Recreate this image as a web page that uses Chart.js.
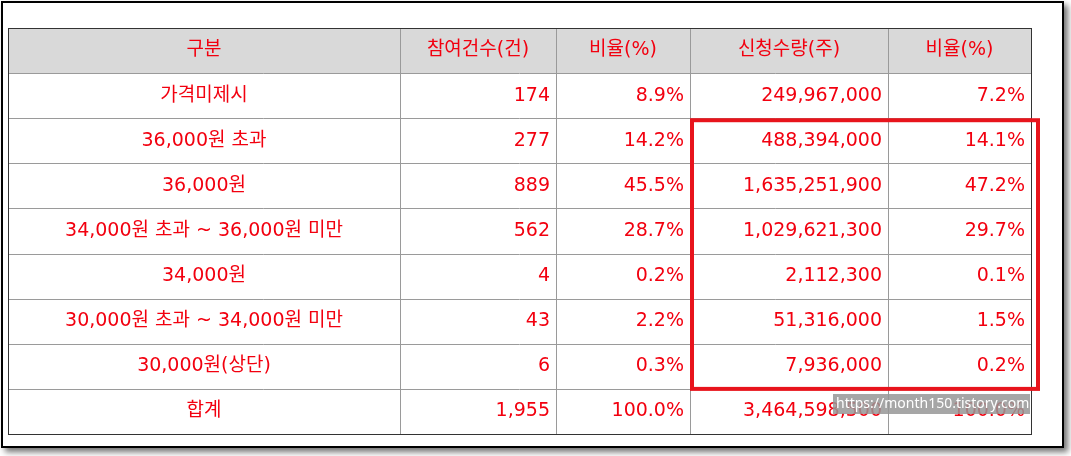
<!DOCTYPE html>
<html><head><meta charset="utf-8">
<script src="https://cdn.jsdelivr.net/npm/chart.js@4"></script>
<style>
html,body{margin:0;padding:0;background:#fff;}
#wrap{position:absolute;left:0;top:0;width:1071px;height:456px;}
#frame{position:absolute;left:1px;top:1px;width:1059px;height:443px;border:2px solid #000;box-shadow:4px 4px 6px rgba(0,0,0,0.55);}
canvas{position:absolute;left:0;top:0;}
</style></head>
<body>
<div id="wrap"><div id="frame"></div><canvas id="tbl" width="1071" height="456"></canvas></div>
<script>
const headers = ["구분", "참여건수(건)", "비율(%)", "신청수량(주)", "비율(%)"]
const categories = ["가격미제시", "36,000원 초과", "36,000원", "34,000원 초과 ~ 36,000원 미만", "34,000원", "30,000원 초과 ~ 34,000원 미만", "30,000원(상단)", "합계"]
const counts = ["174", "277", "889", "562", "4", "43", "6", "1,955"]
const countRatio = ["8.9%", "14.2%", "45.5%", "28.7%", "0.2%", "2.2%", "0.3%", "100.0%"]
const quantities = ["249,967,000", "488,394,000", "1,635,251,900", "1,029,621,300", "2,112,300", "51,316,000", "7,936,000", "3,464,598,500"]
const qtyRatio = ["7.2%", "14.1%", "47.2%", "29.7%", "0.1%", "1.5%", "0.2%", "100.0%"]

// layout only: column edges in table units
const colEdges = [0, 392, 548, 682, 880, 1023]
const red = '#f2000f'
const font = '19px "DejaVu Sans", "Noto Sans CJK KR", sans-serif'

const rows = ["header"].concat(categories)

const tablePlugin = {
  id: 'table',
  afterDraw(chart) {
    const c = chart.ctx, xs = chart.scales.x, ys = chart.scales.y
    const step = Math.abs(ys.getPixelForValue(1) - ys.getPixelForValue(0))
    const top = i => ys.getPixelForValue(i) - step / 2
    const L = xs.getPixelForValue(colEdges[0]), R = xs.getPixelForValue(colEdges[colEdges.length - 1])
    c.save()
    c.fillStyle = '#d9d9d9'
    c.fillRect(L, top(0), R - L, step)
    c.strokeStyle = '#9a9a9a'; c.lineWidth = 1
    for (let i = 0; i <= rows.length; i++) {
      const y = Math.round(top(i)) + 0.5
      c.beginPath(); c.moveTo(L, y); c.lineTo(R, y); c.stroke()
    }
    for (const e of colEdges) {
      const x = Math.round(xs.getPixelForValue(e)) + 0.5
      c.beginPath(); c.moveTo(x, top(0)); c.lineTo(x, top(rows.length)); c.stroke()
    }
    c.strokeStyle = '#333'
    c.strokeRect(L + 0.5, top(0) + 0.5, R - L, top(rows.length) - top(0))
    c.font = font; c.fillStyle = red; c.textBaseline = 'middle'
    const cols = [categories, counts, countRatio, quantities, qtyRatio]
    headers.forEach((h, j) => {
      c.textAlign = 'center'
      c.fillText(h, (xs.getPixelForValue(colEdges[j]) + xs.getPixelForValue(colEdges[j + 1])) / 2, ys.getPixelForValue(0))
    })
    categories.forEach((_, i) => {
      const y = ys.getPixelForValue(i + 1)
      cols.forEach((col, j) => {
        const x0 = xs.getPixelForValue(colEdges[j]), x1 = xs.getPixelForValue(colEdges[j + 1])
        if (j === 0) { c.textAlign = 'center'; c.fillText(col[i], (x0 + x1) / 2, y) }
        else { c.textAlign = 'right'; c.fillText(col[i], x1 - 6, y) }
      })
    })
    // watermark
    c.fillStyle = 'rgba(150,150,150,0.85)'
    c.fillRect(833, 394, 197, 20)
    c.fillStyle = '#fff'; c.font = '14px "Noto Sans", sans-serif'; c.textAlign = 'left'
    c.fillText('https://month150.tistory.com', 836, 404)
    // highlight box
    c.strokeStyle = '#e8141c'; c.lineWidth = 4
    const bx = xs.getPixelForValue(colEdges[3]) + 2
    c.strokeRect(bx, top(2) + 2, R + 7 - bx, top(8) - top(2) - 2)
    c.restore()
  }
}

new Chart(document.getElementById('tbl'), {
  type: 'bar',
  data: { labels: rows, datasets: [{ data: [] }] },
  options: {
    responsive: false, animation: false,
    indexAxis: 'y',
    layout: { padding: { left: 8, top: 28, right: 40, bottom: 22 } },
    plugins: { legend: { display: false }, tooltip: { enabled: false } },
    scales: {
      x: { type: 'linear', min: 0, max: 1023, display: false },
      y: { type: 'category', offset: true, display: false }
    }
  },
  plugins: [tablePlugin]
})
</script>
</body></html>
